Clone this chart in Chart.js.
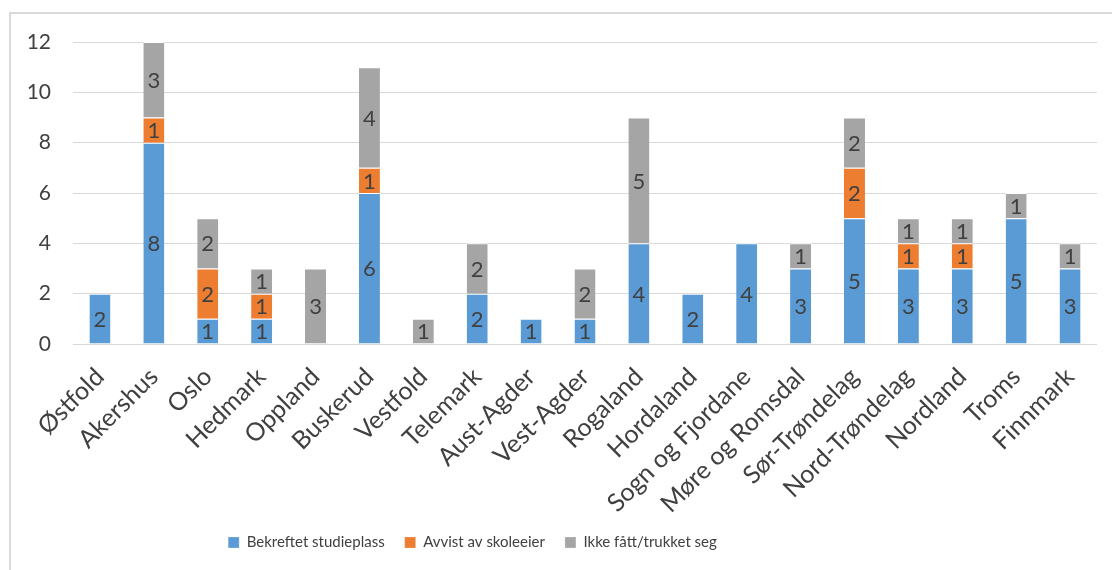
<!DOCTYPE html>
<html>
<head>
<meta charset="utf-8">
<script src="https://cdn.jsdelivr.net/npm/chart.js@4.4.0/dist/chart.umd.min.js"></script>
<style>
  html, body { margin: 0; padding: 0; background: #fff; }
  #frame { position: absolute; left: 9px; top: 12px; width: 1200px; height: 700px;
           border-left: 2px solid #d9d9d9; border-top: 2px solid #d9d9d9; }
  #wrap { position: absolute; left: 0; top: 0; width: 1112px; height: 570px; }
</style>
</head>
<body>
<div id="frame"></div>
<div id="wrap"><canvas id="fylkeChart"></canvas></div>
<script>
/* Søkere per fylke */

const fylker = ['Østfold', 'Akershus', 'Oslo', 'Hedmark', 'Oppland', 'Buskerud', 'Vestfold', 'Telemark',
  'Aust-Agder', 'Vest-Agder', 'Rogaland', 'Hordaland', 'Sogn og Fjordane', 'Møre og Romsdal',
  'Sør-Trøndelag', 'Nord-Trøndelag', 'Nordland', 'Troms', 'Finnmark'];

const bekreftet = [2, 8, 1, 1, 0, 6, 0, 2, 1, 1, 4, 2, 4, 3, 5, 3, 3, 5, 3];
const avvist    = [0, 1, 2, 1, 0, 1, 0, 0, 0, 0, 0, 0, 0, 0, 2, 1, 1, 0, 0];
const ikkeFatt  = [0, 3, 2, 1, 3, 4, 1, 2, 0, 2, 5, 0, 0, 1, 2, 1, 1, 1, 1];

const yTicks = [0, 2, 4, 6, 8, 10, 12];

const textColor = '#404040';
const fontFamily = 'Lato, "Open Sans", sans-serif';

// tall midt i hvert segment
const segmentLabels = {
  id: 'segmentLabels',
  afterDatasetsDraw(chart) {
    const c = chart.ctx;
    c.save();
    c.font = '22px ' + fontFamily;
    c.fillStyle = textColor;
    c.textAlign = 'center';
    c.textBaseline = 'middle';
    chart.data.datasets.forEach((ds, i) => {
      const meta = chart.getDatasetMeta(i);
      meta.data.forEach((bar, j) => {
        const v = ds.data[j];
        if (!v) return;
        c.fillText(String(v), bar.x, (bar.y + bar.base) / 2 + 1);
      });
    });
    c.restore();
  }
};

// flytt legenden litt mot venstre, som i originalen
const legendShift = {
  id: 'legendShift',
  afterLayout(chart) {
    const lg = chart.legend;
    lg.left = 0;
    lg.right = 945;
  }
};

const ctx = document.getElementById('fylkeChart').getContext('2d');
const fylkeChart = new Chart(ctx, {
  type: 'bar',
  data: {
    labels: fylker,
    datasets: [{
      label: 'Bekreftet studieplass',
      data: bekreftet,
      backgroundColor: '#5B9BD5',
      borderColor: '#ffffff',
      borderWidth: {top: 1, left: 0, right: 0, bottom: 0},
      borderSkipped: false
    }, {
      label: 'Avvist av skoleeier',
      data: avvist,
      backgroundColor: '#ED7D31',
      borderColor: '#ffffff',
      borderWidth: {top: 1, left: 0, right: 0, bottom: 0},
      borderSkipped: false
    }, {
      label: 'Ikke fått/trukket seg',
      data: ikkeFatt,
      backgroundColor: '#A5A5A5',
      borderColor: '#ffffff',
      borderWidth: {top: 1, left: 0, right: 0, bottom: 0},
      borderSkipped: false
    }]
  },
  options: {
    responsive: true,
    maintainAspectRatio: false,
    animation: false,
    barPercentage: 0.39,
    categoryPercentage: 1,
    layout: {
      padding: {top: 42, right: 15, bottom: 10, left: 0}
    },
    plugins: {
      legend: {
        position: 'bottom',
        labels: {
          color: textColor,
          font: {family: fontFamily, size: 15},
          boxWidth: 11,
          boxHeight: 11,
          padding: 20
        }
      },
      tooltip: {enabled: false}
    },
    scales: {
      x: {
        stacked: true,
        grid: {display: false},
        border: {display: false},
        ticks: {
          color: textColor,
          font: {family: fontFamily, size: 25},
          maxRotation: 45,
          minRotation: 45,
          autoSkip: false,
          padding: 10
        },
        afterFit(scale) { scale.height = 171; }
      },
      y: {
        stacked: true,
        min: 0,
        max: 12,
        afterBuildTicks(scale) { scale.ticks = yTicks.map(v => ({value: v})); },
        grid: {color: '#d9d9d9', lineWidth: 1, drawTicks: false},
        border: {display: false},
        ticks: {
          color: textColor,
          font: {family: fontFamily, size: 21},
          padding: 22
        },
        afterFit(scale) { scale.width = 73; }
      }
    }
  },
  plugins: [segmentLabels, legendShift]
});
</script>
</body>
</html>
